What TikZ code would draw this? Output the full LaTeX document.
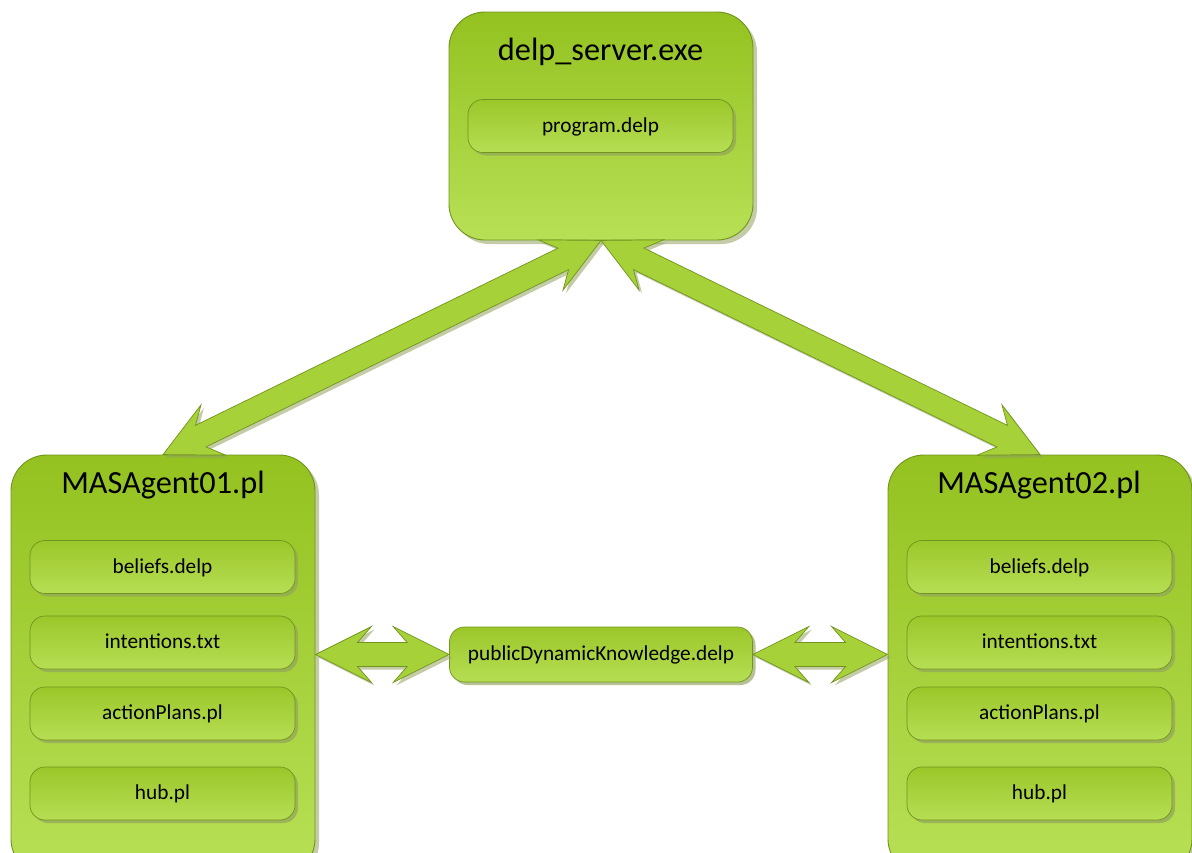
\documentclass[tikz,border=0pt]{standalone}
\usepackage{fontspec}
\setmainfont{Carlito}
\usetikzlibrary{calc,shadows}

\definecolor{gTop}{RGB}{148,194,32}
\definecolor{gBot}{RGB}{184,224,86}
\definecolor{iTop}{RGB}{156,199,42}
\definecolor{iBot}{RGB}{182,222,84}
\definecolor{edgeGreen}{RGB}{112,148,30}
\definecolor{shadowGreen}{RGB}{145,160,95}
\definecolor{arrowGreen}{RGB}{166,209,56}

\tikzset{
  container/.style={draw=edgeGreen, line width=0.9pt, rounded corners=36pt,
    top color=gTop, bottom color=gBot, minimum width=304pt, inner sep=0pt,
    drop shadow={shadow xshift=4pt, shadow yshift=-4pt, fill=shadowGreen, opacity=0.55}},
  filebox/.style={draw=edgeGreen, line width=0.7pt, rounded corners=15pt,
    top color=iTop, bottom color=iBot, minimum width=265pt, minimum height=53pt,
    inner sep=0pt, text height=14.6pt, text depth=2pt,
    font=\fontsize{21.3}{25}\selectfont,
    drop shadow={shadow xshift=3pt, shadow yshift=-3pt, fill=shadowGreen, opacity=0.65}},
  title/.style={anchor=base, inner sep=0pt, font=\fontsize{32.3}{38}\selectfont},
  blockarrow/.style={draw=edgeGreen, line width=0.7pt, fill=arrowGreen, line join=miter,
    drop shadow={shadow xshift=3pt, shadow yshift=-3pt, fill=shadowGreen, opacity=0.55}},
}

% double-headed block arrow between two points, heads with swept-back barbs
\newcommand\dblarrow[2]{%
  \draw[blockarrow] (#1)
    -- ($(#1)!56pt!(#2)!28pt!90:(#2)$)
    -- ($(#1)!42pt!(#2)!12pt!90:(#2)$)
    -- ($(#2)!42pt!(#1)!12pt!-90:(#1)$)
    -- ($(#2)!56pt!(#1)!28pt!-90:(#1)$)
    -- (#2)
    -- ($(#2)!56pt!(#1)!28pt!90:(#1)$)
    -- ($(#2)!42pt!(#1)!12pt!90:(#1)$)
    -- ($(#1)!42pt!(#2)!12pt!-90:(#2)$)
    -- ($(#1)!56pt!(#2)!28pt!-90:(#2)$)
    -- cycle;}

\begin{document}
\begin{tikzpicture}[x=1pt, y=-1pt]
  \useasboundingbox (0,0) rectangle (1192,852);
  \clip (0,0) rectangle (1192,852);

  % server process
  \node[container, minimum height=228pt] (server) at (601,126) {};
  \node[title] (serverTitle) at (600.5,60) {delp\_server.exe};
  \node[filebox] (program) at (600.5,126) {program.delp};

  % first agent
  \node[container, minimum height=420pt] (agentA) at (163,665) {};
  \node[title] (agentATitle) at (163,493.3) {MASAgent01.pl};
  \node[filebox] (beliefsA) at (162.5,567) {beliefs.delp};
  \node[filebox] (intentA) at (162.5,642.5) {intentions.txt};
  \node[filebox] (plansA) at (162.5,713.5) {actionPlans.pl};
  \node[filebox] (hubA) at (162.5,793.5) {hub.pl};

  % second agent
  \node[container, minimum height=420pt] (agentB) at (1040,665) {};
  \node[title] (agentBTitle) at (1039,493.3) {MASAgent02.pl};
  \node[filebox] (beliefsB) at (1039.5,567) {beliefs.delp};
  \node[filebox] (intentB) at (1039.5,642.5) {intentions.txt};
  \node[filebox] (plansB) at (1039.5,713.5) {actionPlans.pl};
  \node[filebox] (hubB) at (1039.5,793.5) {hub.pl};

  % shared knowledge file
  \node[filebox, minimum width=303pt, minimum height=55pt] (pdk) at (601,654.5)
    {publicDynamicKnowledge.delp};

  % communication links
  \coordinate (leftEnd) at (agentA.east |- pdk.west);
  \coordinate (rightEnd) at (agentB.west |- pdk.east);
  \dblarrow{server.south}{agentA.north}
  \dblarrow{server.south}{agentB.north}
  \dblarrow{leftEnd}{pdk.west}
  \dblarrow{pdk.east}{rightEnd}
\end{tikzpicture}
\end{document}
